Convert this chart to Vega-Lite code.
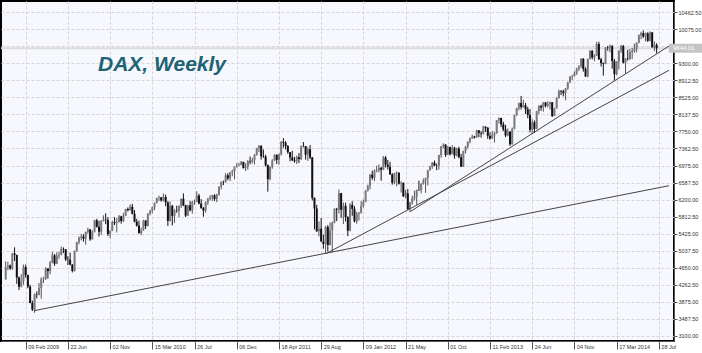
{
"$schema":"https://vega.github.io/schema/vega-lite/v6.json",
"width":673,"height":340,
"autosize":{"type":"none"},
"padding":{"left":1,"top":1,"right":28,"bottom":12},
"background":"#ffffff",
"config":{"view":{"fill":"#f7f8fd","stroke":"#000000","strokeWidth":2},"font":"Liberation Sans",
 "axis":{"gridColor":"#d6d6d6","gridDash":[3,2],"gridWidth":1,"domainColor":"#555555","tickColor":"#555555","labelColor":"#333333","labelFont":"Liberation Sans"},
 "axisY":{"orient":"right","title":null,"format":".2f","grid":true,"tickSize":3,"labelFontSize":5.5,"labelPadding":1,"labelAlign":"left"}},
"title":{"text":"DAX, Weekly","anchor":"start","frame":"group","orient":"top","offset":0,"dx":97,"dy":91,"baseline":"alphabetic","font":"Liberation Sans","fontSize":21,"fontStyle":"italic","fontWeight":"bold","color":"#1d6373"},
"datasets":{
"bars":[
{"t":"2008-12-08","o":4381,"h":4793,"l":4380,"c":4664},
{"t":"2008-12-15","o":4664,"h":4782,"l":4590,"c":4696},
{"t":"2008-12-22","o":4696,"h":4720,"l":4600,"c":4630},
{"t":"2008-12-29","o":4630,"h":4980,"l":4600,"c":4973},
{"t":"2009-01-05","o":4973,"h":5111,"l":4800,"c":4937},
{"t":"2009-01-12","o":4937,"h":4945,"l":4280,"c":4424},
{"t":"2009-01-19","o":4424,"h":4450,"l":4140,"c":4215},
{"t":"2009-01-26","o":4215,"h":4500,"l":4200,"c":4338},
{"t":"2009-02-02","o":4338,"h":4720,"l":4260,"c":4665},
{"t":"2009-02-09","o":4665,"h":4720,"l":4420,"c":4480},
{"t":"2009-02-16","o":4480,"h":4490,"l":4180,"c":4216},
{"t":"2009-02-23","o":4216,"h":4260,"l":3840,"c":3844},
{"t":"2009-03-02","o":3844,"h":3900,"l":3660,"c":3695},
{"t":"2009-03-09","o":3695,"h":4060,"l":3620,"c":4040},
{"t":"2009-03-16","o":4040,"h":4110,"l":3950,"c":4030},
{"t":"2009-03-23","o":4030,"h":4300,"l":4020,"c":4187},
{"t":"2009-03-30","o":4187,"h":4430,"l":3940,"c":4384},
{"t":"2009-04-06","o":4384,"h":4440,"l":4300,"c":4390},
{"t":"2009-04-13","o":4390,"h":4660,"l":4370,"c":4629},
{"t":"2009-04-20","o":4629,"h":4640,"l":4400,"c":4570},
{"t":"2009-04-27","o":4570,"h":4800,"l":4500,"c":4770},
{"t":"2009-05-04","o":4770,"h":5010,"l":4750,"c":4928},
{"t":"2009-05-11","o":4928,"h":4960,"l":4690,"c":4736},
{"t":"2009-05-18","o":4736,"h":5000,"l":4730,"c":4928},
{"t":"2009-05-25","o":4928,"h":5010,"l":4850,"c":4941},
{"t":"2009-06-01","o":4941,"h":5130,"l":4930,"c":5077},
{"t":"2009-06-08","o":5077,"h":5110,"l":4980,"c":5069},
{"t":"2009-06-15","o":5069,"h":5070,"l":4800,"c":4838},
{"t":"2009-06-22","o":4838,"h":4910,"l":4710,"c":4830},
{"t":"2009-06-29","o":4830,"h":4990,"l":4700,"c":4718},
{"t":"2009-07-06","o":4718,"h":4730,"l":4540,"c":4576},
{"t":"2009-07-13","o":4576,"h":5040,"l":4560,"c":5028},
{"t":"2009-07-20","o":5028,"h":5240,"l":5010,"c":5229},
{"t":"2009-07-27","o":5229,"h":5360,"l":5180,"c":5332},
{"t":"2009-08-03","o":5332,"h":5420,"l":5270,"c":5359},
{"t":"2009-08-10","o":5359,"h":5410,"l":5240,"c":5309},
{"t":"2009-08-17","o":5309,"h":5470,"l":5170,"c":5462},
{"t":"2009-08-24","o":5462,"h":5560,"l":5420,"c":5517},
{"t":"2009-08-31","o":5517,"h":5530,"l":5260,"c":5294},
{"t":"2009-09-07","o":5294,"h":5500,"l":5290,"c":5470},
{"t":"2009-09-14","o":5470,"h":5740,"l":5450,"c":5726},
{"t":"2009-09-21","o":5726,"h":5760,"l":5560,"c":5581},
{"t":"2009-09-28","o":5581,"h":5720,"l":5360,"c":5468},
{"t":"2009-10-05","o":5468,"h":5730,"l":5400,"c":5711},
{"t":"2009-10-12","o":5711,"h":5840,"l":5700,"c":5743},
{"t":"2009-10-19","o":5743,"h":5888,"l":5640,"c":5736},
{"t":"2009-10-26","o":5736,"h":5800,"l":5370,"c":5415},
{"t":"2009-11-02","o":5415,"h":5500,"l":5320,"c":5487},
{"t":"2009-11-09","o":5487,"h":5720,"l":5480,"c":5686},
{"t":"2009-11-16","o":5686,"h":5800,"l":5620,"c":5663},
{"t":"2009-11-23","o":5663,"h":5780,"l":5450,"c":5685},
{"t":"2009-11-30","o":5685,"h":5850,"l":5680,"c":5817},
{"t":"2009-12-07","o":5817,"h":5830,"l":5650,"c":5709},
{"t":"2009-12-14","o":5709,"h":5900,"l":5690,"c":5831},
{"t":"2009-12-21","o":5831,"h":5990,"l":5820,"c":5985},
{"t":"2009-12-28","o":5985,"h":6020,"l":5930,"c":5957},
{"t":"2010-01-04","o":5957,"h":6090,"l":5950,"c":6037},
{"t":"2010-01-11","o":6037,"h":6100,"l":5860,"c":5875},
{"t":"2010-01-18","o":5875,"h":5960,"l":5680,"c":5696},
{"t":"2010-01-25","o":5696,"h":5760,"l":5580,"c":5608},
{"t":"2010-02-01","o":5608,"h":5720,"l":5430,"c":5434},
{"t":"2010-02-08","o":5434,"h":5560,"l":5390,"c":5500},
{"t":"2010-02-15","o":5500,"h":5740,"l":5490,"c":5723},
{"t":"2010-02-22","o":5723,"h":5730,"l":5530,"c":5598},
{"t":"2010-03-01","o":5598,"h":5890,"l":5590,"c":5877},
{"t":"2010-03-08","o":5877,"h":5960,"l":5840,"c":5945},
{"t":"2010-03-15","o":5945,"h":6040,"l":5890,"c":6027},
{"t":"2010-03-22","o":6027,"h":6130,"l":5960,"c":6121},
{"t":"2010-03-29","o":6121,"h":6240,"l":6110,"c":6235},
{"t":"2010-04-05","o":6235,"h":6290,"l":6170,"c":6250},
{"t":"2010-04-12","o":6250,"h":6260,"l":6150,"c":6180},
{"t":"2010-04-19","o":6180,"h":6340,"l":6160,"c":6259},
{"t":"2010-04-26","o":6259,"h":6310,"l":6050,"c":6135},
{"t":"2010-05-03","o":6135,"h":6160,"l":5600,"c":5715},
{"t":"2010-05-10","o":5715,"h":6160,"l":5700,"c":6056},
{"t":"2010-05-17","o":6056,"h":6080,"l":5610,"c":5829},
{"t":"2010-05-24","o":5829,"h":5980,"l":5670,"c":5946},
{"t":"2010-05-31","o":5946,"h":6060,"l":5900,"c":5938},
{"t":"2010-06-07","o":5938,"h":6070,"l":5800,"c":6049},
{"t":"2010-06-14","o":6049,"h":6230,"l":6010,"c":6216},
{"t":"2010-06-21","o":6216,"h":6340,"l":6050,"c":6070},
{"t":"2010-06-28","o":6070,"h":6080,"l":5800,"c":5834},
{"t":"2010-07-05","o":5834,"h":6080,"l":5830,"c":6066},
{"t":"2010-07-12","o":6066,"h":6170,"l":5930,"c":5954},
{"t":"2010-07-19","o":5954,"h":6170,"l":5880,"c":6143},
{"t":"2010-07-26","o":6143,"h":6200,"l":6080,"c":6147},
{"t":"2010-08-02","o":6147,"h":6390,"l":6140,"c":6291},
{"t":"2010-08-09","o":6291,"h":6330,"l":6090,"c":6110},
{"t":"2010-08-16","o":6110,"h":6210,"l":5990,"c":6005},
{"t":"2010-08-23","o":6005,"h":6030,"l":5810,"c":5951},
{"t":"2010-08-30","o":5951,"h":6160,"l":5900,"c":6135},
{"t":"2010-09-06","o":6135,"h":6240,"l":6080,"c":6214},
{"t":"2010-09-13","o":6214,"h":6300,"l":6180,"c":6246},
{"t":"2010-09-20","o":6246,"h":6310,"l":6170,"c":6298},
{"t":"2010-09-27","o":6298,"h":6320,"l":6170,"c":6211},
{"t":"2010-10-04","o":6211,"h":6330,"l":6140,"c":6304},
{"t":"2010-10-11","o":6304,"h":6500,"l":6290,"c":6492},
{"t":"2010-10-18","o":6492,"h":6610,"l":6430,"c":6605},
{"t":"2010-10-25","o":6605,"h":6630,"l":6530,"c":6601},
{"t":"2010-11-01","o":6601,"h":6800,"l":6580,"c":6753},
{"t":"2010-11-08","o":6753,"h":6800,"l":6640,"c":6683},
{"t":"2010-11-15","o":6683,"h":6830,"l":6620,"c":6823},
{"t":"2010-11-22","o":6823,"h":6880,"l":6730,"c":6849},
{"t":"2010-11-29","o":6849,"h":6950,"l":6660,"c":6947},
{"t":"2010-12-06","o":6947,"h":7030,"l":6930,"c":6975},
{"t":"2010-12-13","o":6975,"h":7040,"l":6960,"c":6989},
{"t":"2010-12-20","o":6989,"h":7080,"l":6980,"c":7057},
{"t":"2010-12-27","o":7057,"h":7060,"l":6910,"c":6914},
{"t":"2011-01-03","o":6914,"h":7030,"l":6850,"c":6947},
{"t":"2011-01-10","o":6947,"h":7100,"l":6880,"c":7075},
{"t":"2011-01-17","o":7075,"h":7180,"l":7000,"c":7062},
{"t":"2011-01-24","o":7062,"h":7150,"l":7020,"c":7102},
{"t":"2011-01-31","o":7102,"h":7240,"l":7000,"c":7216},
{"t":"2011-02-07","o":7216,"h":7380,"l":7200,"c":7371},
{"t":"2011-02-14","o":7371,"h":7440,"l":7280,"c":7426},
{"t":"2011-02-21","o":7426,"h":7430,"l":7110,"c":7185},
{"t":"2011-02-28","o":7185,"h":7340,"l":7150,"c":7178},
{"t":"2011-03-07","o":7178,"h":7220,"l":6950,"c":6982},
{"t":"2011-03-14","o":6982,"h":7000,"l":6380,"c":6664},
{"t":"2011-03-21","o":6664,"h":6960,"l":6640,"c":6946},
{"t":"2011-03-28","o":6946,"h":7120,"l":6900,"c":7087},
{"t":"2011-04-04","o":7087,"h":7230,"l":7080,"c":7217},
{"t":"2011-04-11","o":7217,"h":7230,"l":7010,"c":7102},
{"t":"2011-04-18","o":7102,"h":7250,"l":6990,"c":7230},
{"t":"2011-04-25","o":7230,"h":7530,"l":7200,"c":7514},
{"t":"2011-05-02","o":7514,"h":7600,"l":7380,"c":7492},
{"t":"2011-05-09","o":7492,"h":7530,"l":7340,"c":7419},
{"t":"2011-05-16","o":7419,"h":7440,"l":7240,"c":7279},
{"t":"2011-05-23","o":7279,"h":7280,"l":7070,"c":7160},
{"t":"2011-05-30","o":7160,"h":7310,"l":7080,"c":7092},
{"t":"2011-06-06","o":7092,"h":7170,"l":7040,"c":7069},
{"t":"2011-06-13","o":7069,"h":7200,"l":7010,"c":7164},
{"t":"2011-06-20","o":7164,"h":7260,"l":7030,"c":7121},
{"t":"2011-06-27","o":7121,"h":7430,"l":7100,"c":7420},
{"t":"2011-07-04","o":7420,"h":7510,"l":7390,"c":7419},
{"t":"2011-07-11","o":7419,"h":7420,"l":7110,"c":7220},
{"t":"2011-07-18","o":7220,"h":7390,"l":7080,"c":7344},
{"t":"2011-07-25","o":7344,"h":7440,"l":7120,"c":7158},
{"t":"2011-08-01","o":7158,"h":7170,"l":6180,"c":6236},
{"t":"2011-08-08","o":6236,"h":6250,"l":5520,"c":5997},
{"t":"2011-08-15","o":5997,"h":6080,"l":5460,"c":5480},
{"t":"2011-08-22","o":5480,"h":5700,"l":5360,"c":5537},
{"t":"2011-08-29","o":5537,"h":5780,"l":5240,"c":5246},
{"t":"2011-09-05","o":5246,"h":5400,"l":5080,"c":5189},
{"t":"2011-09-12","o":5189,"h":5600,"l":4965,"c":5574},
{"t":"2011-09-19","o":5574,"h":5620,"l":5020,"c":5164},
{"t":"2011-09-26","o":5164,"h":5680,"l":5160,"c":5502},
{"t":"2011-10-03","o":5502,"h":5700,"l":5000,"c":5675},
{"t":"2011-10-10","o":5675,"h":6000,"l":5660,"c":5988},
{"t":"2011-10-17","o":5988,"h":6010,"l":5710,"c":5971},
{"t":"2011-10-24","o":5971,"h":6430,"l":5880,"c":6346},
{"t":"2011-10-31","o":6346,"h":6350,"l":5780,"c":5966},
{"t":"2011-11-07","o":5966,"h":6130,"l":5640,"c":6057},
{"t":"2011-11-14","o":6057,"h":6130,"l":5700,"c":5800},
{"t":"2011-11-21","o":5800,"h":5820,"l":5366,"c":5492},
{"t":"2011-11-28","o":5492,"h":6120,"l":5480,"c":6080},
{"t":"2011-12-05","o":6080,"h":6160,"l":5830,"c":5987},
{"t":"2011-12-12","o":5987,"h":6050,"l":5680,"c":5702},
{"t":"2011-12-19","o":5702,"h":5920,"l":5650,"c":5878},
{"t":"2011-12-26","o":5878,"h":5920,"l":5720,"c":5898},
{"t":"2012-01-02","o":5898,"h":6170,"l":5880,"c":6057},
{"t":"2012-01-09","o":6057,"h":6200,"l":6020,"c":6143},
{"t":"2012-01-16","o":6143,"h":6420,"l":6140,"c":6404},
{"t":"2012-01-23","o":6404,"h":6540,"l":6380,"c":6512},
{"t":"2012-01-30","o":6512,"h":6780,"l":6430,"c":6767},
{"t":"2012-02-06","o":6767,"h":6860,"l":6650,"c":6692},
{"t":"2012-02-13","o":6692,"h":6890,"l":6620,"c":6849},
{"t":"2012-02-20","o":6849,"h":6970,"l":6820,"c":6865},
{"t":"2012-02-27","o":6865,"h":7000,"l":6820,"c":6921},
{"t":"2012-03-05","o":6921,"h":6950,"l":6630,"c":6880},
{"t":"2012-03-12","o":6880,"h":7190,"l":6870,"c":7157},
{"t":"2012-03-19","o":7157,"h":7190,"l":6930,"c":6996},
{"t":"2012-03-26","o":6996,"h":7100,"l":6880,"c":6947},
{"t":"2012-04-02","o":6947,"h":7060,"l":6760,"c":6775},
{"t":"2012-04-09","o":6775,"h":6800,"l":6540,"c":6583},
{"t":"2012-04-16","o":6583,"h":6810,"l":6550,"c":6801},
{"t":"2012-04-23","o":6801,"h":6840,"l":6500,"c":6811},
{"t":"2012-04-30","o":6811,"h":6820,"l":6540,"c":6561},
{"t":"2012-05-07","o":6561,"h":6620,"l":6360,"c":6579},
{"t":"2012-05-14","o":6579,"h":6590,"l":6260,"c":6271},
{"t":"2012-05-21","o":6271,"h":6420,"l":6230,"c":6340},
{"t":"2012-05-28","o":6340,"h":6440,"l":5970,"c":5978},
{"t":"2012-06-04","o":5978,"h":6150,"l":5914,"c":6130},
{"t":"2012-06-11","o":6130,"h":6290,"l":6080,"c":6229},
{"t":"2012-06-18","o":6229,"h":6400,"l":6180,"c":6263},
{"t":"2012-06-25","o":6263,"h":6430,"l":6080,"c":6416},
{"t":"2012-07-02","o":6416,"h":6630,"l":6400,"c":6410},
{"t":"2012-07-09","o":6410,"h":6570,"l":6340,"c":6557},
{"t":"2012-07-16","o":6557,"h":6680,"l":6540,"c":6630},
{"t":"2012-07-23","o":6630,"h":6700,"l":6350,"c":6689},
{"t":"2012-07-30","o":6689,"h":6880,"l":6520,"c":6865},
{"t":"2012-08-06","o":6865,"h":6970,"l":6860,"c":6944},
{"t":"2012-08-13","o":6944,"h":7050,"l":6900,"c":7040},
{"t":"2012-08-20","o":7040,"h":7090,"l":6960,"c":6971},
{"t":"2012-08-27","o":6971,"h":7020,"l":6870,"c":6970},
{"t":"2012-09-03","o":6970,"h":7220,"l":6880,"c":7214},
{"t":"2012-09-10","o":7214,"h":7420,"l":7150,"c":7412},
{"t":"2012-09-17","o":7412,"h":7480,"l":7370,"c":7451},
{"t":"2012-09-24","o":7451,"h":7460,"l":7170,"c":7216},
{"t":"2012-10-01","o":7216,"h":7420,"l":7210,"c":7398},
{"t":"2012-10-08","o":7398,"h":7400,"l":7200,"c":7233},
{"t":"2012-10-15","o":7233,"h":7440,"l":7230,"c":7380},
{"t":"2012-10-22","o":7380,"h":7400,"l":7130,"c":7203},
{"t":"2012-10-29","o":7203,"h":7380,"l":7180,"c":7363},
{"t":"2012-11-05","o":7363,"h":7400,"l":7140,"c":7163},
{"t":"2012-11-12","o":7163,"h":7240,"l":6940,"c":6950},
{"t":"2012-11-19","o":6950,"h":7310,"l":6940,"c":7309},
{"t":"2012-11-26","o":7309,"h":7420,"l":7250,"c":7405},
{"t":"2012-12-03","o":7405,"h":7530,"l":7360,"c":7518},
{"t":"2012-12-10","o":7518,"h":7610,"l":7480,"c":7596},
{"t":"2012-12-17","o":7596,"h":7680,"l":7580,"c":7636},
{"t":"2012-12-24","o":7636,"h":7650,"l":7590,"c":7612},
{"t":"2012-12-31","o":7612,"h":7790,"l":7610,"c":7776},
{"t":"2013-01-07","o":7776,"h":7780,"l":7620,"c":7715},
{"t":"2013-01-14","o":7715,"h":7760,"l":7610,"c":7702},
{"t":"2013-01-21","o":7702,"h":7880,"l":7680,"c":7857},
{"t":"2013-01-28","o":7857,"h":7870,"l":7740,"c":7833},
{"t":"2013-02-04","o":7833,"h":7850,"l":7580,"c":7652},
{"t":"2013-02-11","o":7652,"h":7730,"l":7560,"c":7593},
{"t":"2013-02-18","o":7593,"h":7760,"l":7580,"c":7661},
{"t":"2013-02-25","o":7661,"h":7740,"l":7500,"c":7708},
{"t":"2013-03-04","o":7708,"h":8010,"l":7700,"c":8003},
{"t":"2013-03-11","o":8003,"h":8070,"l":7930,"c":8058},
{"t":"2013-03-18","o":8058,"h":8060,"l":7850,"c":7913},
{"t":"2013-03-25","o":7913,"h":7970,"l":7760,"c":7795},
{"t":"2013-04-01","o":7795,"h":7900,"l":7620,"c":7658},
{"t":"2013-04-08","o":7658,"h":7820,"l":7640,"c":7744},
{"t":"2013-04-15","o":7744,"h":7760,"l":7420,"c":7459},
{"t":"2013-04-22","o":7459,"h":7840,"l":7450,"c":7815},
{"t":"2013-04-29","o":7815,"h":8130,"l":7800,"c":8122},
{"t":"2013-05-06","o":8122,"h":8290,"l":8100,"c":8278},
{"t":"2013-05-13","o":8278,"h":8410,"l":8230,"c":8399},
{"t":"2013-05-20","o":8399,"h":8560,"l":8250,"c":8306},
{"t":"2013-05-27","o":8306,"h":8470,"l":8290,"c":8348},
{"t":"2013-06-03","o":8348,"h":8400,"l":8150,"c":8254},
{"t":"2013-06-10","o":8254,"h":8310,"l":8050,"c":8127},
{"t":"2013-06-17","o":8127,"h":8260,"l":7730,"c":7789},
{"t":"2013-06-24","o":7789,"h":8030,"l":7690,"c":7959},
{"t":"2013-07-01","o":7959,"h":8000,"l":7720,"c":7806},
{"t":"2013-07-08","o":7806,"h":8220,"l":7800,"c":8212},
{"t":"2013-07-15","o":8212,"h":8350,"l":8140,"c":8331},
{"t":"2013-07-22","o":8331,"h":8360,"l":8220,"c":8298},
{"t":"2013-07-29","o":8298,"h":8420,"l":8200,"c":8410},
{"t":"2013-08-05","o":8410,"h":8420,"l":8300,"c":8338},
{"t":"2013-08-12","o":8338,"h":8440,"l":8300,"c":8372},
{"t":"2013-08-19","o":8372,"h":8430,"l":8250,"c":8416},
{"t":"2013-08-26","o":8416,"h":8420,"l":8080,"c":8103},
{"t":"2013-09-02","o":8103,"h":8290,"l":8100,"c":8275},
{"t":"2013-09-09","o":8275,"h":8530,"l":8270,"c":8510},
{"t":"2013-09-16","o":8510,"h":8700,"l":8500,"c":8676},
{"t":"2013-09-23","o":8676,"h":8690,"l":8580,"c":8661},
{"t":"2013-09-30","o":8661,"h":8700,"l":8550,"c":8623},
{"t":"2013-10-07","o":8623,"h":8740,"l":8460,"c":8725},
{"t":"2013-10-14","o":8725,"h":8880,"l":8700,"c":8868},
{"t":"2013-10-21","o":8868,"h":9010,"l":8850,"c":9001},
{"t":"2013-10-28","o":9001,"h":9040,"l":8920,"c":9010},
{"t":"2013-11-04","o":9010,"h":9120,"l":9000,"c":9078},
{"t":"2013-11-11","o":9078,"h":9200,"l":9040,"c":9168},
{"t":"2013-11-18","o":9168,"h":9260,"l":9130,"c":9225},
{"t":"2013-11-25","o":9225,"h":9420,"l":9200,"c":9405},
{"t":"2013-12-02","o":9405,"h":9420,"l":9110,"c":9172},
{"t":"2013-12-09","o":9172,"h":9210,"l":8990,"c":9006},
{"t":"2013-12-16","o":9006,"h":9410,"l":8980,"c":9400},
{"t":"2013-12-23","o":9400,"h":9600,"l":9390,"c":9589},
{"t":"2013-12-30","o":9589,"h":9600,"l":9390,"c":9435},
{"t":"2014-01-06","o":9435,"h":9510,"l":9350,"c":9473},
{"t":"2014-01-13","o":9473,"h":9790,"l":9470,"c":9742},
{"t":"2014-01-20","o":9742,"h":9794,"l":9380,"c":9393},
{"t":"2014-01-27","o":9393,"h":9430,"l":9230,"c":9306},
{"t":"2014-02-03","o":9306,"h":9320,"l":9020,"c":9289},
{"t":"2014-02-10","o":9289,"h":9670,"l":9280,"c":9663},
{"t":"2014-02-17","o":9663,"h":9700,"l":9590,"c":9657},
{"t":"2014-02-24","o":9657,"h":9730,"l":9550,"c":9692},
{"t":"2014-03-03","o":9692,"h":9720,"l":9180,"c":9350},
{"t":"2014-03-10","o":9350,"h":9400,"l":8910,"c":9056},
{"t":"2014-03-17","o":9056,"h":9350,"l":9030,"c":9343},
{"t":"2014-03-24","o":9343,"h":9600,"l":9160,"c":9588},
{"t":"2014-03-31","o":9588,"h":9720,"l":9540,"c":9695},
{"t":"2014-04-07","o":9695,"h":9720,"l":9300,"c":9315},
{"t":"2014-04-14","o":9315,"h":9420,"l":9070,"c":9409},
{"t":"2014-04-21","o":9409,"h":9610,"l":9360,"c":9401},
{"t":"2014-04-28","o":9401,"h":9630,"l":9380,"c":9556},
{"t":"2014-05-05","o":9556,"h":9650,"l":9400,"c":9581},
{"t":"2014-05-12","o":9581,"h":9750,"l":9540,"c":9630},
{"t":"2014-05-19","o":9630,"h":9780,"l":9550,"c":9768},
{"t":"2014-05-26","o":9768,"h":9960,"l":9760,"c":9943},
{"t":"2014-06-02","o":9943,"h":10020,"l":9850,"c":9987},
{"t":"2014-06-09","o":9987,"h":10050,"l":9880,"c":9912},
{"t":"2014-06-16","o":9912,"h":10000,"l":9800,"c":9987},
{"t":"2014-06-23","o":9987,"h":10010,"l":9790,"c":9815},
{"t":"2014-06-30","o":9815,"h":10030,"l":9800,"c":10009},
{"t":"2014-07-07","o":10009,"h":10010,"l":9660,"c":9666},
{"t":"2014-07-14","o":9666,"h":9800,"l":9580,"c":9720},
{"t":"2014-07-21","o":9720,"h":9760,"l":9530,"c":9644}
],
"lines":[
{"id":"A","t":"2009-03-07","v":3669},{"id":"A","t":"2014-08-29","v":6515},
{"id":"B","t":"2011-09-14","v":4970},{"id":"B","t":"2014-08-29","v":9143},
{"id":"C","t":"2012-06-05","v":5925},{"id":"C","t":"2014-08-29","v":9696}
],
"price":[{"v":9644,"t":"2014-08-29","t2":"2014-12-31","lab":"9644.01"}]
},
"encoding":{
 "x":{"field":"t","type":"temporal","title":null,
  "scale":{"domain":["2008-12-09T00:00:00Z","2014-08-29T00:00:00Z"],"nice":false},
  "axis":{"orient":"bottom","title":null,"values":["2009-02-09T00:00:00Z","2009-06-22T00:00:00Z","2009-11-02T00:00:00Z","2010-03-15T00:00:00Z","2010-07-26T00:00:00Z","2010-12-06T00:00:00Z","2011-04-18T00:00:00Z","2011-08-29T00:00:00Z","2012-01-09T00:00:00Z","2012-05-21T00:00:00Z","2012-10-01T00:00:00Z","2013-02-11T00:00:00Z","2013-06-24T00:00:00Z","2013-11-04T00:00:00Z","2014-03-17T00:00:00Z","2014-07-28T00:00:00Z"],
   "labelExpr":"utcmonth(datum.value) <= 3 ? utcFormat(datum.value, '%d %b %Y') : utcFormat(datum.value, '%d %b')",
   "grid":true,"tickSize":8,"labelFontSize":5.5,"labelAlign":"left","labelBaseline":"middle","labelPadding":-3,"labelOffset":2}}
},
"layer":[
{"data":{"name":"price"},"mark":{"type":"rule","color":"#dcdcdc","strokeWidth":2},
 "encoding":{"x":null,"y":{"field":"v","type":"quantitative","title":null,"scale":{"domain":[2979,10721],"zero":false,"nice":false},"axis":{"values":[3100,3487.5,3875,4262.5,4650,5037.5,5425,5812.5,6200,6587.5,6975,7362.5,7750,8137.5,8525,8912.5,9300,9687.5,10075,10462.5],"labelOverlap":false}}}},
{"data":{"name":"bars"},"mark":{"type":"rule","strokeWidth":1},
 "encoding":{
  "y":{"field":"l","type":"quantitative","title":null,"scale":{"domain":[2979,10721],"zero":false,"nice":false},"axis":{"values":[3100,3487.5,3875,4262.5,4650,5037.5,5425,5812.5,6200,6587.5,6975,7362.5,7750,8137.5,8525,8912.5,9300,9687.5,10075,10462.5],"labelOverlap":false}},
  "y2":{"field":"h"},
  "color":{"condition":{"test":"datum.c < datum.o","value":"#111111"},"value":"#555555"}}},
{"data":{"name":"bars"},"mark":{"type":"bar","size":2},
 "encoding":{
  "y":{"field":"o","type":"quantitative","title":null,"scale":{"domain":[2979,10721],"zero":false,"nice":false},"axis":{"values":[3100,3487.5,3875,4262.5,4650,5037.5,5425,5812.5,6200,6587.5,6975,7362.5,7750,8137.5,8525,8912.5,9300,9687.5,10075,10462.5],"labelOverlap":false}},
  "y2":{"field":"c"},
  "color":{"condition":{"test":"datum.c < datum.o","value":"#111111"},"value":"#7a7a7a"}}},
{"data":{"name":"lines"},"mark":{"type":"line","color":"#444444","strokeWidth":1},
 "encoding":{
  "y":{"field":"v","type":"quantitative","title":null,"scale":{"domain":[2979,10721],"zero":false,"nice":false},"axis":{"values":[3100,3487.5,3875,4262.5,4650,5037.5,5425,5812.5,6200,6587.5,6975,7362.5,7750,8137.5,8525,8912.5,9300,9687.5,10075,10462.5],"labelOverlap":false}},
  "detail":{"field":"id"}}},
{"data":{"name":"price"},"mark":{"type":"rule","color":"#c4c4c4","strokeWidth":9},
 "encoding":{
  "x2":{"field":"t2"},
  "y":{"field":"v","type":"quantitative","title":null,"scale":{"domain":[2979,10721],"zero":false,"nice":false},"axis":{"values":[3100,3487.5,3875,4262.5,4650,5037.5,5425,5812.5,6200,6587.5,6975,7362.5,7750,8137.5,8525,8912.5,9300,9687.5,10075,10462.5],"labelOverlap":false}}}},
{"data":{"name":"price"},"mark":{"type":"text","align":"left","baseline":"middle","dx":4,"fontSize":6,"color":"#ffffff"},
 "encoding":{
  "y":{"field":"v","type":"quantitative","title":null,"scale":{"domain":[2979,10721],"zero":false,"nice":false},"axis":{"values":[3100,3487.5,3875,4262.5,4650,5037.5,5425,5812.5,6200,6587.5,6975,7362.5,7750,8137.5,8525,8912.5,9300,9687.5,10075,10462.5],"labelOverlap":false}},
  "text":{"field":"lab"}}}
]
}
